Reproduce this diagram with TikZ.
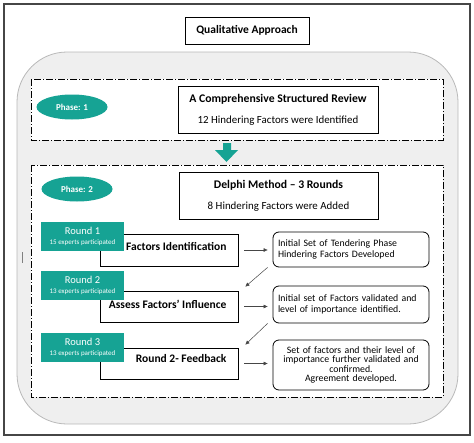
\documentclass[tikz,border=0pt]{standalone}
\usepackage{fontspec}
\setmainfont{Carlito}
\usetikzlibrary{shapes.geometric,arrows.meta}
\definecolor{tealfill}{RGB}{22,163,148}
\definecolor{panelgray}{RGB}{239,239,239}
\definecolor{framegray}{RGB}{70,70,70}
\tikzset{
  plainbox/.style={draw, line width=0.8pt, fill=white, inner sep=0pt},
  phasebox/.style={draw, dash pattern=on 7pt off 2pt on 1pt off 2pt, line width=0.7pt, fill=white},
  phaseoval/.style={ellipse, fill=tealfill, text=white, minimum width=71pt, minimum height=25pt, font=\bfseries\fontsize{9}{10}\selectfont},
  roundtag/.style={fill=tealfill, text=white, minimum width=83pt, minimum height=29pt, align=center, inner sep=0pt, font=\fontsize{10.5}{11}\selectfont},
  resultbox/.style={draw, line width=0.8pt, rounded corners=6pt, fill=white, minimum width=156pt, text width=146pt, font=\fontsize{9.8}{11.5}\selectfont},
  steplabel/.style={anchor=east, font=\bfseries\fontsize{11.5}{13}\selectfont},
  flow/.style={-{Triangle[length=4pt,width=3.5pt]}, draw=framegray, line width=0.5pt}
}
\newcommand{\roundtagnode}[4]{\node at (#1) (#2) [roundtag] {#3\\[-1pt]{\fontsize{7}{8}\selectfont #4}};}

\begin{document}
\begin{tikzpicture}[x=1pt,y=-1pt]
\useasboundingbox (0,0) rectangle (474,442);
\draw [framegray, line width=1.2pt] (4,4) rectangle (470,435);
\node at (247,30.5) (qa) [plainbox, minimum width=124pt, minimum height=27pt, font=\bfseries\fontsize{11.5}{13}\selectfont] {Qualitative Approach};

% grey panel
\draw [fill=panelgray, draw=gray!55, line width=0.8pt, rounded corners=50pt] (17,52) rectangle (458,424);

% phase 1
\draw [phasebox] (31,79) rectangle (443,140);
\node at (72,107) (phaseone) [phaseoval] {Phase: 1};
\node at (278,109.5) (review) [plainbox, minimum width=200pt, minimum height=47pt, align=center, font=\fontsize{10.9}{12}\selectfont]
  {{\bfseries\fontsize{11.7}{13}\selectfont A Comprehensive Structured Review}\\[9pt]12 Hindering Factors were Identified};

% teal arrow
\fill [tealfill] (223,143) -- (231,143) -- (231,150) -- (238,150) -- (226.5,162) -- (215,150) -- (223,150) -- cycle;

% phase 2
\draw [phasebox] (31,165) rectangle (443,397);
\node at (77,189) (phasetwo) [phaseoval] {Phase: 2};
\node at (278.5,195.5) (delphi) [plainbox, minimum width=199pt, minimum height=47pt, align=center, font=\fontsize{10.9}{12}\selectfont]
  {{\bfseries\fontsize{11.7}{13}\selectfont Delphi Method -- 3 Rounds}\\[9pt]8 Hindering Factors were Added};

\node at (169,250) (factid) [plainbox, minimum width=138pt, minimum height=32pt] {};
\node at (169,306.5) (assess) [plainbox, minimum width=138pt, minimum height=31pt] {};
\node at (169,363.5) (feedback) [plainbox, minimum width=138pt, minimum height=31pt] {};
\node at (230,246) (factidtext) [steplabel] {Factors Identification};
\node at (230,304) (assesstext) [steplabel] {Assess Factors’ Influence};
\node at (230,359) (feedbacktext) [steplabel] {Round 2- Feedback};

\roundtagnode{82.5,236.5}{roundone}{Round 1}{15 experts participated};
\roundtagnode{82.5,285}{roundtwo}{Round 2}{13 experts participated};
\roundtagnode{82.5,347.5}{roundthree}{Round 3}{13 experts participated};

\node at (351,249.5) (setone) [resultbox, minimum height=35pt, align=left] {Initial Set of Tendering Phase\\Hindering Factors Developed};
\node at (351,304.5) (settwo) [resultbox, minimum height=37pt, align=left] {Initial set of Factors validated and\\level of importance identified.};
\node at (351,365) (setthree) [resultbox, minimum height=50pt, align=center, font=\fontsize{9.8}{9.6}\selectfont] {Set of factors and their level of\\importance further validated and\\confirmed.\\Agreement developed.};

\draw [flow, shorten <=6pt, shorten >=5pt] (factid.east) -- (factid.east -| setone.west);
\draw [flow, shorten <=6pt, shorten >=5pt] (assess.east) -- (assess.east -| settwo.west);
\draw [flow, shorten <=6pt, shorten >=5pt] (feedback.east) -- (feedback.east -| setthree.west);
\draw [flow] ([xshift=-5pt]setone.south west) -- ([xshift=7pt,yshift=4pt]assess.north east);
\draw [flow] ([xshift=-5pt]settwo.south west) -- ([xshift=7pt,yshift=3pt]feedback.north east);

\draw [gray, line width=0.8pt] (22,252) -- (22,263);
\end{tikzpicture}
\end{document}
